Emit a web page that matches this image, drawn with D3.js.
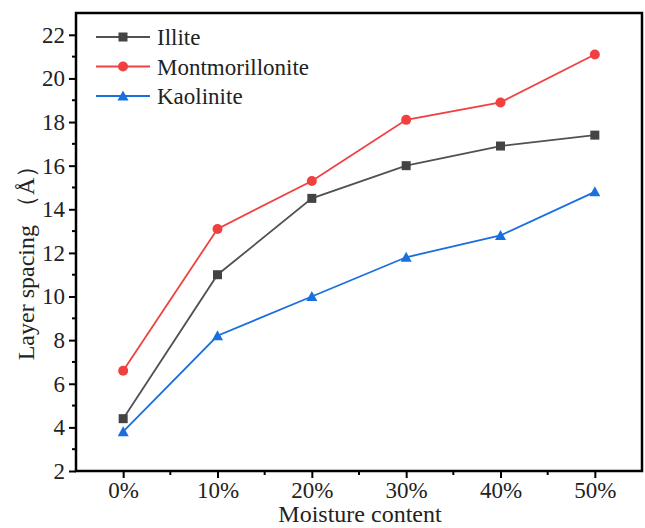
<!DOCTYPE html>
<html>
<head>
<meta charset="utf-8">
<script src="https://cdn.jsdelivr.net/npm/d3@7"></script>
<style>
  body { margin: 0; background: #fff; }
  text { font-family: "Liberation Serif", "Times New Roman", serif; fill: #222; }
</style>
</head>
<body>
<svg id="chart" width="645" height="528"></svg>
<script>
// data
var categories = ["0%", "10%", "20%", "30%", "40%", "50%"];
var illite = [4.4, 11.0, 14.5, 16.0, 16.9, 17.4];
var montmorillonite = [6.6, 13.1, 15.3, 18.1, 18.9, 21.1];
var kaolinite = [3.8, 8.2, 10.0, 11.8, 12.8, 14.8];
var yTicks = [2, 4, 6, 8, 10, 12, 14, 16, 18, 20, 22];

var series = [
  { name: "Illite", values: illite, color: "#515151", marker: "square" },
  { name: "Montmorillonite", values: montmorillonite, color: "#F14040", marker: "circle" },
  { name: "Kaolinite", values: kaolinite, color: "#1A6FDF", marker: "triangle" }
];

var plotLeft = 76, plotRight = 642, plotTop = 13, plotBottom = 471;

var svg = d3.select("#chart");

var x = d3.scalePoint()
    .domain(categories)
    .range([plotLeft, plotRight])
    .padding(0.5);

var y = d3.scaleLinear()
    .domain([2, 23])
    .range([plotBottom, plotTop]);

var step = x.step();

// minor ticks first, so major ones draw over
var xMinor = categories.slice(0, -1).map(function(c) { return x(c) + step / 2; });
svg.append("g").selectAll("line")
    .data(xMinor)
    .enter().append("line")
    .attr("x1", function(d) { return d; })
    .attr("x2", function(d) { return d; })
    .attr("y1", plotBottom)
    .attr("y2", plotBottom + 4)
    .attr("stroke", "#000")
    .attr("stroke-width", 2);

svg.append("g").selectAll("line")
    .data(d3.range(3, 23, 2))
    .enter().append("line")
    .attr("x1", plotLeft)
    .attr("x2", plotLeft - 4)
    .attr("y1", function(d) { return y(d); })
    .attr("y2", function(d) { return y(d); })
    .attr("stroke", "#000")
    .attr("stroke-width", 2);

var xAxis = svg.append("g")
    .attr("transform", "translate(0," + plotBottom + ")")
    .call(d3.axisBottom(x).tickSize(7).tickPadding(4));

var yAxis = svg.append("g")
    .attr("transform", "translate(" + plotLeft + ",0)")
    .call(d3.axisLeft(y).tickValues(yTicks).tickSize(7).tickPadding(4));

[xAxis, yAxis].forEach(function(a) {
  a.select(".domain").remove();
  a.selectAll(".tick line").attr("stroke", "#000").attr("stroke-width", 2);
  a.selectAll(".tick text")
    .style("font-family", "Liberation Serif, serif")
    .style("font-size", "23px")
    .attr("fill", "#222");
});
xAxis.selectAll(".tick text").attr("dy", "0.7em");

// frame
svg.append("rect")
    .attr("x", plotLeft)
    .attr("y", plotTop)
    .attr("width", plotRight - plotLeft)
    .attr("height", plotBottom - plotTop)
    .attr("fill", "none")
    .attr("stroke", "#000")
    .attr("stroke-width", 2.5);

var line = d3.line()
    .x(function(d, i) { return x(categories[i]); })
    .y(function(d) { return y(d); });

function drawMarker(g, type, color, cx, cy) {
  if (type == "square") {
    g.append("rect")
      .attr("x", cx - 4.5).attr("y", cy - 4.5)
      .attr("width", 9).attr("height", 9)
      .attr("fill", "#444");
  } else if (type == "circle") {
    g.append("circle")
      .attr("cx", cx).attr("cy", cy).attr("r", 5)
      .attr("fill", color);
  } else {
    g.append("path")
      .attr("d", "M" + cx + "," + (cy - 5.5) + "L" + (cx + 5.5) + "," + (cy + 4.5) + "L" + (cx - 5.5) + "," + (cy + 4.5) + "Z")
      .attr("fill", color);
  }
}

series.forEach(function(s) {
  var g = svg.append("g");
  g.append("path")
    .datum(s.values)
    .attr("d", line)
    .attr("fill", "none")
    .attr("stroke", s.color)
    .attr("stroke-width", 1.8);
  s.values.forEach(function(v, i) {
    drawMarker(g, s.marker, s.color, x(categories[i]), y(v));
  });
});

// legend
var legend = svg.append("g");
series.forEach(function(s, i) {
  var ly = 37 + i * 29.5;
  legend.append("line")
    .attr("x1", 96).attr("x2", 150)
    .attr("y1", ly).attr("y2", ly)
    .attr("stroke", s.color)
    .attr("stroke-width", 1.8);
  drawMarker(legend, s.marker, s.color, 123, ly);
  legend.append("text")
    .attr("x", 157)
    .attr("y", ly)
    .attr("dy", "0.35em")
    .style("font-size", "23px")
    .text(s.name);
});

// axis titles
svg.append("text")
    .attr("x", 360)
    .attr("y", 522)
    .attr("text-anchor", "middle")
    .style("font-size", "24px")
    .text("Moisture content");

svg.append("text")
    .attr("transform", "translate(34,257) rotate(-90)")
    .attr("text-anchor", "middle")
    .style("font-size", "24px")
    .text("Layer spacing （Å）");
</script>
</body>
</html>
